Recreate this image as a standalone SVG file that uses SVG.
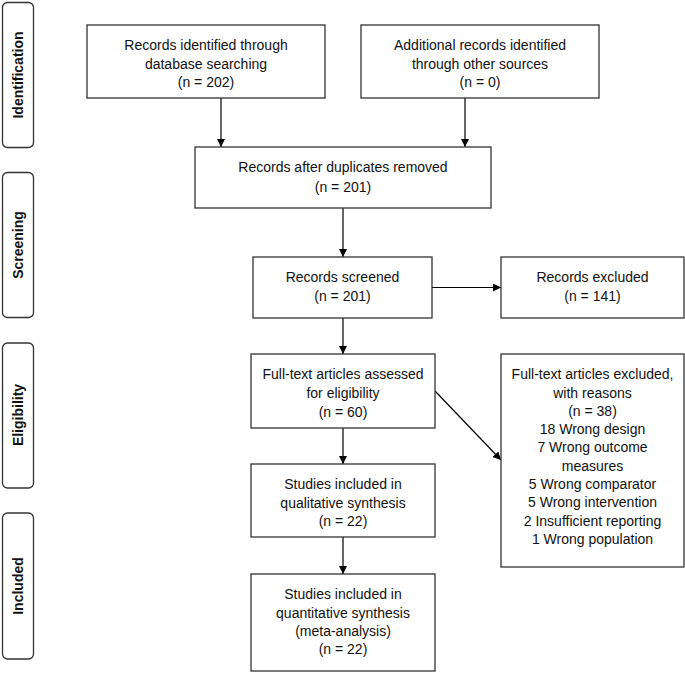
<svg xmlns="http://www.w3.org/2000/svg" width="685" height="673" viewBox="0 0 685 673">
<defs>
<marker id="ah" viewBox="0 0 10 10" refX="10" refY="5" markerWidth="8" markerHeight="8" markerUnits="userSpaceOnUse" orient="auto">
<path d="M0,0 L10,5 L0,10 z" fill="#000"/>
</marker>
<style>
.box{fill:#fff;stroke:#333;stroke-width:1.3}
.bar{fill:#fff;stroke:#333;stroke-width:1.3}
.t{font-family:"Liberation Sans",Arial,sans-serif;font-size:14px;fill:#111;text-anchor:middle}
.lbl{font-family:"Liberation Sans",Arial,sans-serif;font-size:14px;font-weight:bold;fill:#111;text-anchor:middle}
.c{stroke:#000;stroke-width:1.2;fill:none;marker-end:url(#ah)}
</style>
</defs>
<rect width="685" height="673" fill="#fff"/>
<g id="phase-identification"><rect class="bar" x="2.5" y="2.5" width="31" height="145" rx="5"/><text class="lbl" transform="translate(23,75) rotate(-90)">Identification</text></g>
<g id="phase-screening"><rect class="bar" x="2.5" y="172.5" width="31" height="145" rx="5"/><text class="lbl" transform="translate(23,245) rotate(-90)">Screening</text></g>
<g id="phase-eligibility"><rect class="bar" x="2.5" y="343" width="31" height="145" rx="5"/><text class="lbl" transform="translate(23,415) rotate(-90)">Eligibility</text></g>
<g id="phase-included"><rect class="bar" x="2.5" y="513" width="31" height="146" rx="5"/><text class="lbl" transform="translate(23,586) rotate(-90)">Included</text></g>

<g id="connectors">
<line class="c" x1="221" y1="98" x2="221" y2="147"/>
<line class="c" x1="465" y1="98" x2="465" y2="147"/>
<line class="c" x1="343" y1="208" x2="343" y2="257"/>
<line class="c" x1="432" y1="287.5" x2="501" y2="287.5"/>
<line class="c" x1="343" y1="318" x2="343" y2="354"/>
<line class="c" x1="343" y1="428" x2="343" y2="464"/>
<line class="c" x1="343" y1="537" x2="343" y2="574"/>
<line class="c" x1="435" y1="391" x2="501" y2="460"/>
</g>

<g id="n1"><rect class="box" x="87" y="25" width="238" height="73"/>
<text class="t" x="206" y="50">Records identified through</text>
<text class="t" x="206" y="69">database searching</text>
<text class="t" x="206" y="87">(n = 202)</text></g>
<g id="n2"><rect class="box" x="361" y="25" width="238" height="73"/>
<text class="t" x="480" y="50">Additional records identified</text>
<text class="t" x="480" y="69">through other sources</text>
<text class="t" x="480" y="87">(n = 0)</text></g>
<g id="n3"><rect class="box" x="195" y="147" width="296" height="61"/>
<text class="t" x="343" y="172">Records after duplicates removed</text>
<text class="t" x="343" y="192">(n = 201)</text></g>
<g id="n4"><rect class="box" x="253" y="257" width="179" height="61"/>
<text class="t" x="342.5" y="282">Records screened</text>
<text class="t" x="342.5" y="301">(n = 201)</text></g>
<g id="n5"><rect class="box" x="501" y="257" width="183" height="61"/>
<text class="t" x="592.5" y="282">Records excluded</text>
<text class="t" x="592.5" y="301">(n = 141)</text></g>
<g id="n6"><rect class="box" x="251" y="354" width="184" height="74"/>
<text class="t" x="343" y="379">Full-text articles assessed</text>
<text class="t" x="343" y="398">for eligibility</text>
<text class="t" x="343" y="417">(n = 60)</text></g>
<g id="n7"><rect class="box" x="501" y="354" width="183" height="213"/>
<text class="t" x="592.5" y="379">Full-text articles excluded,</text>
<text class="t" x="592.5" y="398">with reasons</text>
<text class="t" x="592.5" y="416">(n = 38)</text>
<text class="t" x="592.5" y="434">18 Wrong design</text>
<text class="t" x="592.5" y="452">7 Wrong outcome</text>
<text class="t" x="592.5" y="471">measures</text>
<text class="t" x="592.5" y="489">5 Wrong comparator</text>
<text class="t" x="592.5" y="507">5 Wrong intervention</text>
<text class="t" x="592.5" y="526">2 Insufficient reporting</text>
<text class="t" x="592.5" y="544">1 Wrong population</text></g>
<g id="n8"><rect class="box" x="251" y="464" width="184" height="73"/>
<text class="t" x="343" y="489">Studies included in</text>
<text class="t" x="343" y="508">qualitative synthesis</text>
<text class="t" x="343" y="526">(n = 22)</text></g>
<g id="n9"><rect class="box" x="251" y="574" width="184" height="97"/>
<text class="t" x="343" y="599">Studies included in</text>
<text class="t" x="343" y="618">quantitative synthesis</text>
<text class="t" x="343" y="636">(meta-analysis)</text>
<text class="t" x="343" y="654">(n = 22)</text></g>
</svg>
